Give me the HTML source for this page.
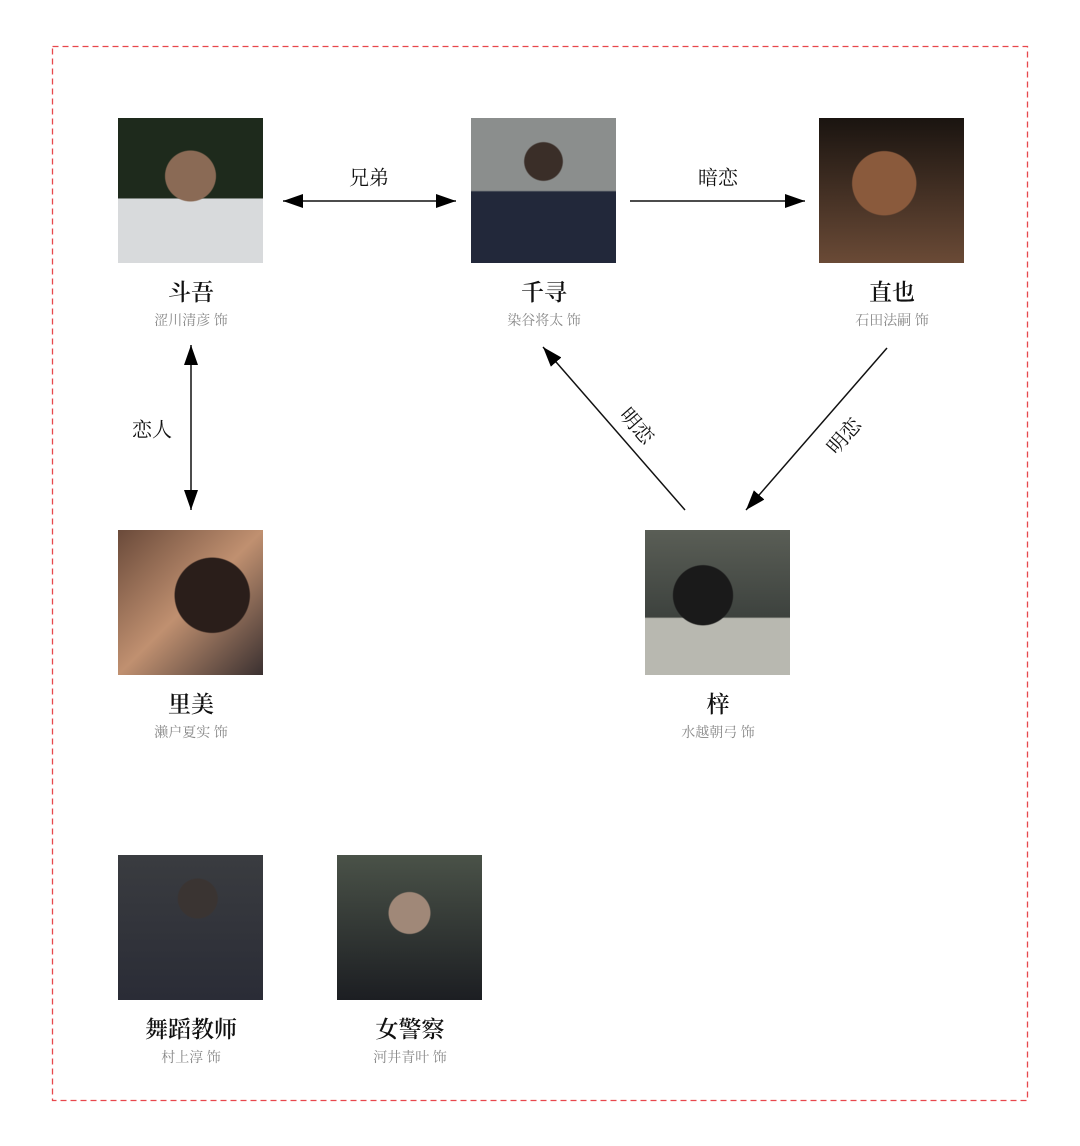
<!DOCTYPE html>
<html><head><meta charset="utf-8"><style>
body{margin:0;background:#fff;width:1080px;height:1146px;position:relative;overflow:hidden;font-family:"Noto Serif CJK SC","Liberation Serif",serif}
.p{position:absolute;width:145px;height:145px}
.n{position:absolute;width:200px;text-align:center;font-size:23px;color:#111;font-weight:600;line-height:30px}
.a{position:absolute;width:200px;text-align:center;font-size:14px;color:#888;line-height:18px}
.l{position:absolute;font-size:20px;color:#111;white-space:nowrap;transform:translate(-50%,-50%)}
</style></head><body>
<div class="p" style="left:118px;top:118px;background:radial-gradient(circle at 50% 40%,#8a6a55 0 22%,transparent 23%),linear-gradient(#1e2a1c 0 55%,#d8dadc 56%)"></div>
<div class="p" style="left:471px;top:118px;background:radial-gradient(circle at 50% 30%,#3a2e28 0 15%,transparent 16%),linear-gradient(#8b8e8d 0 50%,#22283a 51%)"></div>
<div class="p" style="left:819px;top:118px;background:radial-gradient(circle at 45% 45%,#8a5a3c 0 28%,transparent 29%),linear-gradient(#1a1410,#6a4a36)"></div>
<div class="p" style="left:118px;top:530px;background:radial-gradient(circle at 65% 45%,#2a1e1a 0 30%,transparent 31%),linear-gradient(135deg,#6a4a3a,#c09070 50%,#3a3030)"></div>
<div class="p" style="left:645px;top:530px;background:radial-gradient(circle at 40% 45%,#1a1a1a 0 25%,transparent 26%),linear-gradient(#5a5e56,#3d423e 60%,#b8b8b0 61%)"></div>
<div class="p" style="left:118px;top:855px;background:radial-gradient(circle at 55% 30%,#3a3432 0 15%,transparent 16%),linear-gradient(#3a3c40,#2a2c36)"></div>
<div class="p" style="left:337px;top:855px;background:radial-gradient(circle at 50% 40%,#a08878 0 18%,transparent 19%),linear-gradient(#4a5248,#1c1e22)"></div>
<div class="n" style="left:91px;top:276px">斗吾</div><div class="a" style="left:91px;top:311px">涩川清彦 饰</div>
<div class="n" style="left:444px;top:276px">千寻</div><div class="a" style="left:444px;top:311px">染谷将太 饰</div>
<div class="n" style="left:792px;top:276px">直也</div><div class="a" style="left:792px;top:311px">石田法嗣 饰</div>
<div class="n" style="left:91px;top:688px">里美</div><div class="a" style="left:91px;top:723px">濑户夏实 饰</div>
<div class="n" style="left:618px;top:688px">梓</div><div class="a" style="left:618px;top:723px">水越朝弓 饰</div>
<div class="n" style="left:91px;top:1013px">舞蹈教师</div><div class="a" style="left:91px;top:1048px">村上淳 饰</div>
<div class="n" style="left:310px;top:1013px">女警察</div><div class="a" style="left:310px;top:1048px">河井青叶 饰</div>
<svg width="1080" height="1146" style="position:absolute;left:0;top:0">
<defs><marker id="k" viewBox="0 0 20 14" markerWidth="20" markerHeight="14" refX="20" refY="7" orient="auto-start-reverse" markerUnits="userSpaceOnUse"><path d="M0,0 L20,7 L0,14z"/></marker></defs>
<rect x="52.5" y="46.5" width="975" height="1054" fill="none" stroke="#e8474c" stroke-width="1.3" stroke-dasharray="6,4"/>
<g stroke="#111" stroke-width="1.5" fill="none">
<line x1="283" y1="201" x2="456" y2="201" marker-start="url(#k)" marker-end="url(#k)"/>
<line x1="630" y1="201" x2="805" y2="201" marker-end="url(#k)"/>
<line x1="191" y1="345" x2="191" y2="510" marker-start="url(#k)" marker-end="url(#k)"/>
<line x1="685" y1="510" x2="543" y2="347" marker-end="url(#k)"/>
<line x1="887" y1="348" x2="746" y2="510" marker-end="url(#k)"/>
</g></svg>
<div class="l" style="left:369px;top:176px">兄弟</div>
<div class="l" style="left:718px;top:176px">暗恋</div>
<div class="l" style="left:152px;top:428px">恋人</div>
<div class="l" style="left:638px;top:425px;transform:translate(-50%,-50%) rotate(49deg)">明恋</div>
<div class="l" style="left:843px;top:435px;transform:translate(-50%,-50%) rotate(-49deg)">明恋</div>
</body></html>
